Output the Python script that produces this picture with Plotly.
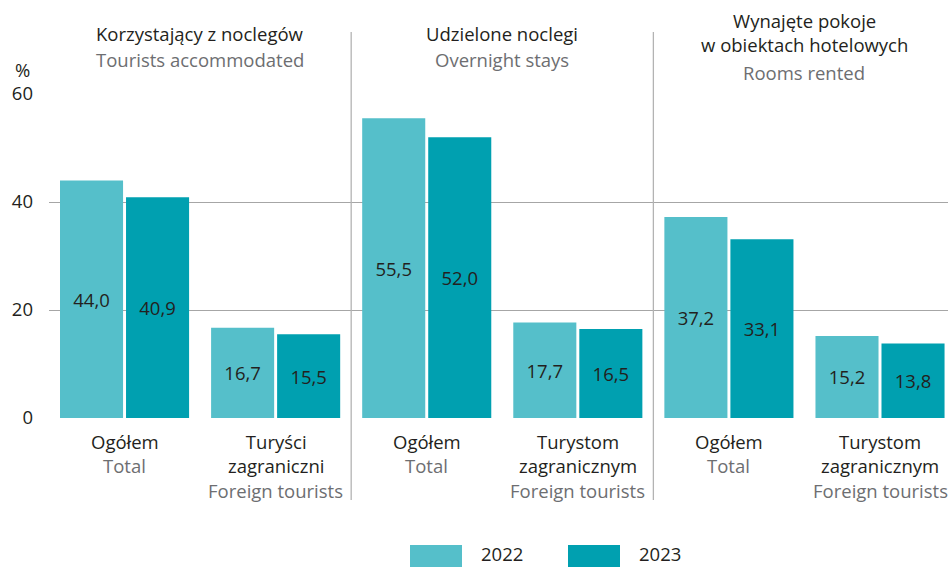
import plotly.graph_objects as go

# Category labels (Polish / English) and values in %
cat_pl = ["Ogółem", "Turyści<br>zagraniczni", "Ogółem", "Turystom<br>zagranicznym", "Ogółem", "Turystom<br>zagranicznym"]
cat_en = ["Total", "Foreign tourists", "Total", "Foreign tourists", "Total", "Foreign tourists"]
values_2022 = [44.0, 16.7, 55.5, 17.7, 37.2, 15.2]
values_2023 = [40.9, 15.5, 52.0, 16.5, 33.1, 13.8]

section_pl = ["Korzystający z noclegów", "Udzielone noclegi", "Wynajęte pokoje<br>w obiektach hotelowych"]
section_en = ["Tourists accommodated", "Overnight stays", "Rooms rented"]

years = ["2022", "2023"]
colors = ["#55bfca", "#00a0b0"]

FONT = "Open Sans"
FS = 18.5
DARK = "#231f20"
GREY = "#6d6e71"

x = list(range(len(cat_pl)))

fig = go.Figure()
for yr, vals, col in zip(years, [values_2022, values_2023], colors):
    fig.add_trace(go.Bar(
        x=x, y=vals, name=yr, marker=dict(color=col, line=dict(width=0)),
        texttemplate="%{y:.1f}", textposition="inside", insidetextanchor="middle",
        textfont=dict(family=FONT, size=FS, color=DARK), showlegend=False,
        textangle=0,
    ))

# plot-area geometry in pixels (for paper-coordinate conversions)
W = 948
LEFT = 49
TOP, BOTTOM = 94, 418
H = BOTTOM - TOP
def py(p):
    return (BOTTOM - p) / H
def px(p):
    return (p - LEFT) / (W - LEFT)

LINE = 24.5
annotations = []
# category labels under the axis
for i, (pl, en) in enumerate(zip(cat_pl, cat_en)):
    n = pl.count("<br>") + 1
    annotations.append(dict(x=i, y=py(427), xref="x", yref="paper", text=pl, showarrow=False,
                            yanchor="top", xanchor="center",
                            font=dict(family=FONT, size=FS, color=DARK)))
    annotations.append(dict(x=i, y=py(427 + LINE * n), xref="x", yref="paper", text=en, showarrow=False,
                            yanchor="top", xanchor="center",
                            font=dict(family=FONT, size=FS, color=GREY)))

# section headings above the plot
for k, (pl, en) in enumerate(zip(section_pl, section_en)):
    n = pl.count("<br>") + 1
    top = 19 if n == 1 else 6
    annotations.append(dict(x=2 * k + 0.5, y=py(top), xref="x", yref="paper", text=pl, showarrow=False,
                            yanchor="top", xanchor="center",
                            font=dict(family=FONT, size=FS, color=DARK)))
    annotations.append(dict(x=2 * k + 0.5, y=py(top + 26 * n), xref="x", yref="paper", text=en, showarrow=False,
                            yanchor="top", xanchor="center",
                            font=dict(family=FONT, size=FS, color=GREY)))

# unit label
annotations.append(dict(x=px(22), y=py(70), xref="paper", yref="paper", text="%", showarrow=False,
                        xanchor="center", yanchor="middle",
                        font=dict(family=FONT, size=FS, color=DARK)))

shapes = []
# section separators
for xs in [1.5, 3.5]:
    shapes.append(dict(type="line", x0=xs, x1=xs, xref="x", yref="paper", y0=py(32), y1=py(500),
                       line=dict(color="#b3b3b3", width=1.3)))

# custom legend at the bottom
leg = [(410, "2022", colors[0]), (568, "2023", colors[1])]
for x0, lab, col in leg:
    shapes.append(dict(type="rect", xref="paper", yref="paper",
                       x0=px(x0), x1=px(x0 + 52),
                       y0=py(545), y1=py(567), fillcolor=col, line=dict(width=0)))
    annotations.append(dict(xref="paper", yref="paper", x=px(x0 + 69), y=py(553.5),
                            text=lab, showarrow=False, xanchor="left", yanchor="middle",
                            font=dict(family=FONT, size=FS, color=DARK)))

fig.update_layout(
    width=W, height=567,
    margin=dict(l=LEFT, r=0, t=TOP, b=567 - BOTTOM, pad=0),
    paper_bgcolor="white", plot_bgcolor="white",
    barmode="group", bargap=0.126, bargroupgap=0.045,
    separators=",.",
    font=dict(family=FONT, size=FS, color=DARK),
    xaxis=dict(range=[-0.5, 5.45], showticklabels=False, showgrid=False, zeroline=False,
               showline=False, ticks="", fixedrange=True),
    yaxis=dict(range=[0, 60], tickvals=[0, 20, 40, 60], showgrid=True, gridcolor="#a6a6a6",
               gridwidth=1.3, zeroline=False, showline=False, ticks="",
               ticklabelstandoff=15, tickfont=dict(family=FONT, size=FS, color=DARK)),
    annotations=annotations, shapes=shapes,
)

fig.write_html("out.html")
